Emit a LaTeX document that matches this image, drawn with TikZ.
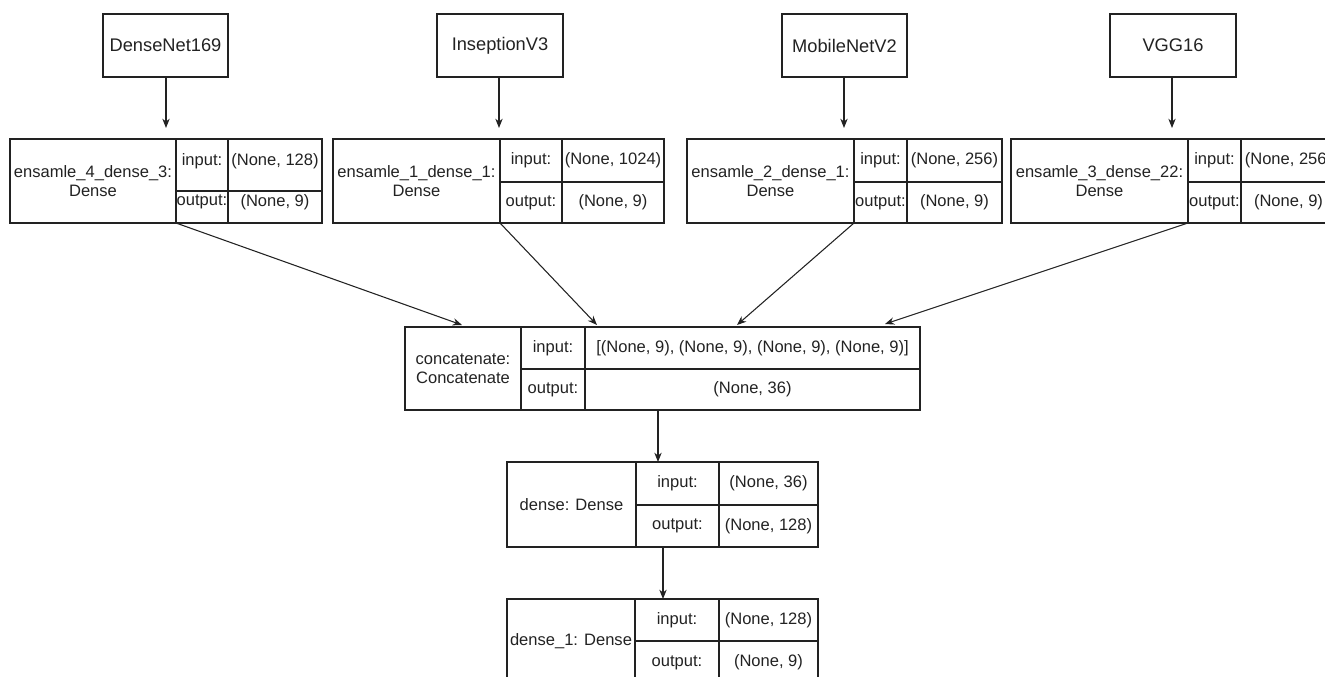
\documentclass[tikz,border=0pt]{standalone}
\usepackage{fontspec}
\setmainfont{Liberation Sans}
\usetikzlibrary{arrows.meta}
\definecolor{ink}{HTML}{222222}
\tikzset{
  cell/.style={draw=ink, line width=0.8pt, inner sep=0pt, outer sep=0pt,
    text=ink, align=center, font=\fontsize{12.4}{14.5}\selectfont},
  celltext/.style={text=ink, align=center, inner sep=0pt, font=\fontsize{12.4}{14.5}\selectfont},
  netbox/.style={cell, font=\fontsize{13.7}{16}\selectfont},
  link/.style={draw=ink, line width=0.8pt, -{Stealth[length=7pt,width=5.5pt]}}
}
% one rectangular cell given by its corners (pixel units)
\newcommand\celln[6]{%
  \pgfmathsetmacro\cw{(#4-#2)*0.75}%
  \pgfmathsetmacro\ch{(#5-#3)*0.75}%
  \node[cell, minimum width=\cw pt, minimum height=\ch pt] (#1) at ({(#2+#4)/2},{(#3+#5)/2}) {#6};%
}
% a layer table: name, x0, x1, x2, x3, y0, ym, y1
\newcommand\layertab[8]{%
  \celln{#1-l}{#2}{#6}{#3}{#8}{\layerlabel}%
  \celln{#1-ik}{#3}{#6}{#4}{#7}{input:}%
  \celln{#1-ok}{#3}{#7}{#4}{#8}{output:}%
  \celln{#1-iv}{#4}{#6}{#5}{#7}{\layerin}%
  \celln{#1-ov}{#4}{#7}{#5}{#8}{\layerout}%
}
\begin{document}
\begin{tikzpicture}[x=0.75pt, y=-0.75pt]
\useasboundingbox (0,0) rectangle (1325,677);
\clip (0,0) rectangle (1325,677);

% backbone networks
\celln{dn}{103}{14}{228}{77}{}
\node[netbox, draw=none] at (dn) {DenseNet169};
\celln{inc}{437}{14}{563}{77}{}
\node[netbox, draw=none] at (inc) {InseptionV3};
\celln{mob}{782}{14}{907}{77}{}
\node[netbox, draw=none] at (mob) {MobileNetV2};
\celln{vgg}{1110}{14}{1236}{77}{}
\node[netbox, draw=none] at (vgg) {VGG16};

% dense heads of the ensemble members
\celln{b1-l}{10}{139}{176}{223}{ensamle\_4\_dense\_3:\\Dense}
\celln{b1-ik}{176}{139}{228}{191}{}
\celln{b1-ok}{176}{191}{228}{223}{}
\celln{b1-iv}{228}{139}{322}{191}{}
\celln{b1-ov}{228}{191}{322}{223}{}
\node[celltext] (b1-ikt) at (202,161) {input:};
\node[celltext] (b1-okt) at (202,202) {output:};
\node[celltext] (b1-ivt) at (275,161) {(None, 128)};
\node[celltext] (b1-ovt) at (275,202) {(None, 9)};

\def\layerlabel{ensamle\_1\_dense\_1:\\Dense}\def\layerin{(None, 1024)}\def\layerout{(None, 9)}
\layertab{b2}{333}{500}{562}{664}{139}{182}{223}
\def\layerlabel{ensamle\_2\_dense\_1:\\Dense}\def\layerin{(None, 256)}\def\layerout{(None, 9)}
\layertab{b3}{687}{854}{907}{1002}{139}{182}{223}
\def\layerlabel{ensamle\_3\_dense\_22:\\Dense}\def\layerin{(None, 256)}\def\layerout{(None, 9)}
\layertab{b4}{1011}{1188}{1241}{1336}{139}{182}{223}

% merge and classifier layers
\def\layerlabel{concatenate:\\Concatenate}\def\layerin{[(None, 9), (None, 9), (None, 9), (None, 9)]}\def\layerout{(None, 36)}
\layertab{cat}{405}{521}{585}{920}{327}{369}{410}
\def\layerlabel{dense: Dense}\def\layerin{(None, 36)}\def\layerout{(None, 128)}
\layertab{d0}{507}{636}{719}{818}{462}{505}{547}
\def\layerlabel{dense\_1: Dense}\def\layerin{(None, 128)}\def\layerout{(None, 9)}
\layertab{d1}{507}{635}{719}{818}{599}{641}{684}

% connector end points
\coordinate (t1) at (166,128);
\coordinate (t2) at (499,128);
\coordinate (t3) at (844,128);
\coordinate (t4) at (1172,128);
\coordinate (m1) at (462,325);
\coordinate (m2) at (597,325);
\coordinate (m3) at (737,325);
\coordinate (m4) at (885,324);
\coordinate (s0) at (658,410);
\coordinate (e0) at (658,462);
\coordinate (s1) at (663,547);
\coordinate (e1) at (663,599);

\draw[link] (dn.south -| t1) -- (t1);
\draw[link] (inc.south -| t2) -- (t2);
\draw[link] (mob.south -| t3) -- (t3);
\draw[link] (vgg.south -| t4) -- (t4);

\draw[link] (b1-l.south east) -- (m1);
\draw[link] (b2-l.south east) -- (m2);
\draw[link] (b3-l.south east) -- (m3);
\draw[link] (b4-l.south east) -- (m4);

\draw[link] (s0) -- (e0);
\draw[link] (s1) -- (e1);
\end{tikzpicture}
\end{document}
